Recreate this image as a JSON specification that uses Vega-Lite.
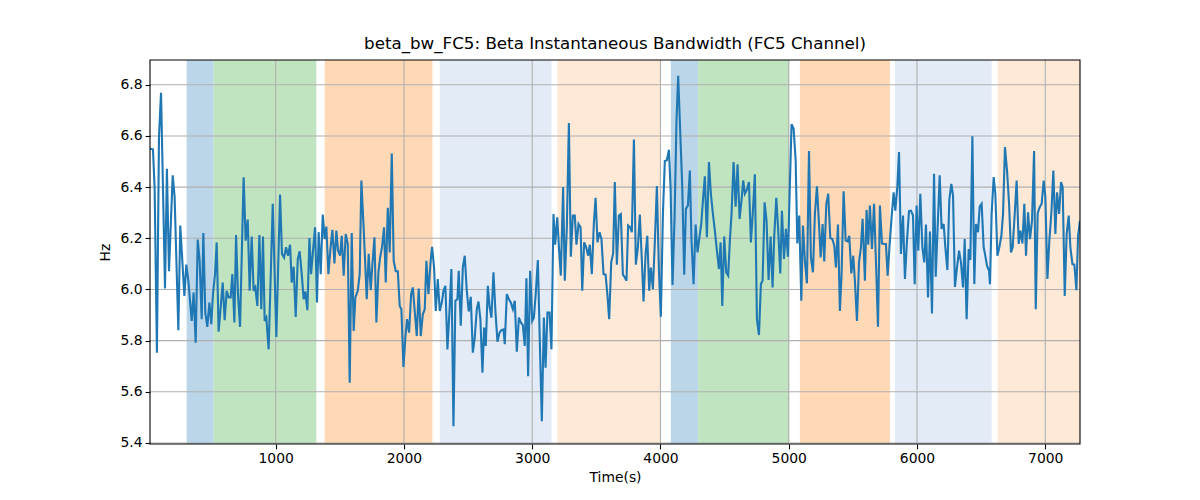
{
  "$schema": "https://vega.github.io/schema/vega-lite/v6.json",
  "width": 930,
  "height": 384,
  "autosize": {"type": "none"},
  "padding": {"left": 150, "top": 60, "right": 120, "bottom": 56},
  "background": "white",
  "config": {
    "view": {"stroke": null},
    "font": "DejaVu Sans",
    "axis": {
      "grid": false,
      "domain": false,
      "labelFont": "DejaVu Sans",
      "labelFontSize": 13.9,
      "labelColor": "black",
      "titleFont": "DejaVu Sans",
      "titleFontSize": 13.9,
      "titleFontWeight": "normal",
      "titleColor": "black",
      "tickColor": "black",
      "tickSize": 4.9,
      "tickWidth": 1.1,
      "labelPadding": 3
    }
  },
  "title": {
    "text": "beta_bw_FC5: Beta Instantaneous Bandwidth (FC5 Channel)",
    "font": "DejaVu Sans",
    "fontSize": 16.7,
    "fontWeight": "normal",
    "color": "black",
    "anchor": "middle",
    "offset": 7
  },
  "datasets": {
    "bands": [
      {"start": 306, "end": 516, "kind": "a"},
      {"start": 516, "end": 1317, "kind": "b"},
      {"start": 1382, "end": 2222, "kind": "c"},
      {"start": 2279, "end": 3150, "kind": "d"},
      {"start": 3197, "end": 4000, "kind": "e"},
      {"start": 4081, "end": 4294, "kind": "a"},
      {"start": 4294, "end": 5004, "kind": "b"},
      {"start": 5087, "end": 5789, "kind": "c"},
      {"start": 5828, "end": 6582, "kind": "d"},
      {"start": 6629, "end": 7271, "kind": "e"}
    ],
    "xgrid": [{"t": 1000}, {"t": 2000}, {"t": 3000}, {"t": 4000}, {"t": 5000}, {"t": 6000}, {"t": 7000}],
    "ygrid": [{"v": 5.4}, {"v": 5.6}, {"v": 5.8}, {"v": 6.0}, {"v": 6.2}, {"v": 6.4}, {"v": 6.6}, {"v": 6.8}],
    "series": [
      {"t": 20, "v": 6.55}, {"t": 43, "v": 6.548}, {"t": 56, "v": 6.4}, {"t": 74, "v": 5.753}, {"t": 90, "v": 6.596},
      {"t": 106, "v": 6.769}, {"t": 121, "v": 6.4}, {"t": 137, "v": 6.004}, {"t": 152, "v": 6.472}, {"t": 168, "v": 6.071},
      {"t": 197, "v": 6.446}, {"t": 212, "v": 6.361}, {"t": 241, "v": 5.841}, {"t": 256, "v": 6.25}, {"t": 272, "v": 6.112},
      {"t": 288, "v": 5.975}, {"t": 303, "v": 6.097}, {"t": 319, "v": 6.034}, {"t": 345, "v": 5.877}, {"t": 360, "v": 5.988},
      {"t": 376, "v": 5.792}, {"t": 392, "v": 6.195}, {"t": 407, "v": 6.112}, {"t": 423, "v": 5.884}, {"t": 436, "v": 6.221},
      {"t": 451, "v": 5.91}, {"t": 467, "v": 5.854}, {"t": 483, "v": 5.949}, {"t": 498, "v": 5.864}, {"t": 511, "v": 5.982},
      {"t": 527, "v": 6.06}, {"t": 540, "v": 6.184}, {"t": 555, "v": 5.835}, {"t": 571, "v": 5.929}, {"t": 587, "v": 6.027},
      {"t": 602, "v": 5.88}, {"t": 618, "v": 5.995}, {"t": 633, "v": 5.969}, {"t": 649, "v": 5.969}, {"t": 662, "v": 6.06},
      {"t": 678, "v": 5.871}, {"t": 691, "v": 6.213}, {"t": 706, "v": 5.982}, {"t": 722, "v": 5.854}, {"t": 750, "v": 6.439},
      {"t": 766, "v": 6.191}, {"t": 782, "v": 6.273}, {"t": 797, "v": 5.995}, {"t": 813, "v": 6.207}, {"t": 828, "v": 5.995},
      {"t": 841, "v": 6.008}, {"t": 857, "v": 5.936}, {"t": 873, "v": 6.213}, {"t": 888, "v": 5.923}, {"t": 901, "v": 6.207},
      {"t": 914, "v": 5.877}, {"t": 927, "v": 5.89}, {"t": 945, "v": 5.766}, {"t": 977, "v": 6.335}, {"t": 1005, "v": 5.814},
      {"t": 1034, "v": 6.371}, {"t": 1049, "v": 6.139}, {"t": 1065, "v": 6.125}, {"t": 1081, "v": 6.165}, {"t": 1096, "v": 6.132},
      {"t": 1112, "v": 6.175}, {"t": 1125, "v": 6.027}, {"t": 1140, "v": 6.089}, {"t": 1156, "v": 5.893}, {"t": 1172, "v": 6.119},
      {"t": 1187, "v": 6.149}, {"t": 1203, "v": 6.06}, {"t": 1218, "v": 5.962}, {"t": 1231, "v": 5.992}, {"t": 1247, "v": 5.919},
      {"t": 1263, "v": 6.201}, {"t": 1276, "v": 6.06}, {"t": 1291, "v": 6.152}, {"t": 1307, "v": 6.243}, {"t": 1322, "v": 5.949},
      {"t": 1335, "v": 6.224}, {"t": 1351, "v": 6.06}, {"t": 1367, "v": 6.293}, {"t": 1382, "v": 6.197}, {"t": 1395, "v": 6.246},
      {"t": 1411, "v": 6.06}, {"t": 1426, "v": 6.154}, {"t": 1442, "v": 6.233}, {"t": 1458, "v": 6.102}, {"t": 1473, "v": 6.23},
      {"t": 1486, "v": 6.152}, {"t": 1502, "v": 6.132}, {"t": 1515, "v": 6.21}, {"t": 1530, "v": 6.054}, {"t": 1546, "v": 6.217},
      {"t": 1562, "v": 6.178}, {"t": 1577, "v": 5.635}, {"t": 1593, "v": 6.221}, {"t": 1608, "v": 5.838}, {"t": 1621, "v": 5.969},
      {"t": 1640, "v": 5.995}, {"t": 1655, "v": 6.06}, {"t": 1668, "v": 6.426}, {"t": 1689, "v": 6.204}, {"t": 1710, "v": 5.962},
      {"t": 1725, "v": 6.139}, {"t": 1741, "v": 5.997}, {"t": 1754, "v": 6.099}, {"t": 1770, "v": 6.204}, {"t": 1785, "v": 5.871},
      {"t": 1801, "v": 6.067}, {"t": 1814, "v": 6.125}, {"t": 1829, "v": 6.165}, {"t": 1845, "v": 6.243}, {"t": 1858, "v": 6.027},
      {"t": 1874, "v": 6.319}, {"t": 1889, "v": 6.145}, {"t": 1905, "v": 6.531}, {"t": 1920, "v": 6.112}, {"t": 1936, "v": 6.071},
      {"t": 1952, "v": 6.071}, {"t": 1967, "v": 5.936}, {"t": 1980, "v": 5.923}, {"t": 1996, "v": 5.697}, {"t": 2011, "v": 5.812},
      {"t": 2024, "v": 5.884}, {"t": 2040, "v": 5.831}, {"t": 2056, "v": 5.982}, {"t": 2069, "v": 6.008}, {"t": 2084, "v": 5.916},
      {"t": 2100, "v": 5.818}, {"t": 2115, "v": 6.004}, {"t": 2131, "v": 5.818}, {"t": 2147, "v": 5.903}, {"t": 2162, "v": 5.923},
      {"t": 2175, "v": 6.112}, {"t": 2191, "v": 5.982}, {"t": 2206, "v": 6.099}, {"t": 2219, "v": 6.167}, {"t": 2235, "v": 6.086},
      {"t": 2248, "v": 5.916}, {"t": 2264, "v": 6.041}, {"t": 2279, "v": 5.916}, {"t": 2295, "v": 5.949}, {"t": 2308, "v": 5.995},
      {"t": 2323, "v": 6.014}, {"t": 2339, "v": 5.766}, {"t": 2355, "v": 5.916}, {"t": 2370, "v": 6.08}, {"t": 2386, "v": 5.465},
      {"t": 2401, "v": 5.956}, {"t": 2417, "v": 5.962}, {"t": 2427, "v": 6.073}, {"t": 2443, "v": 5.858}, {"t": 2459, "v": 6.086},
      {"t": 2474, "v": 6.132}, {"t": 2490, "v": 5.995}, {"t": 2505, "v": 5.914}, {"t": 2521, "v": 5.971}, {"t": 2537, "v": 5.753},
      {"t": 2552, "v": 5.812}, {"t": 2568, "v": 5.923}, {"t": 2581, "v": 5.953}, {"t": 2596, "v": 5.884}, {"t": 2612, "v": 5.675},
      {"t": 2625, "v": 5.851}, {"t": 2638, "v": 5.779}, {"t": 2654, "v": 6.014}, {"t": 2667, "v": 5.936}, {"t": 2682, "v": 5.89},
      {"t": 2698, "v": 6.067}, {"t": 2713, "v": 5.916}, {"t": 2729, "v": 5.796}, {"t": 2745, "v": 5.831}, {"t": 2760, "v": 5.841},
      {"t": 2776, "v": 5.844}, {"t": 2786, "v": 5.786}, {"t": 2802, "v": 5.982}, {"t": 2818, "v": 5.962}, {"t": 2833, "v": 5.949},
      {"t": 2849, "v": 5.923}, {"t": 2864, "v": 5.956}, {"t": 2880, "v": 5.757}, {"t": 2896, "v": 5.89}, {"t": 2911, "v": 5.871},
      {"t": 2927, "v": 5.861}, {"t": 2942, "v": 5.779}, {"t": 2955, "v": 6.044}, {"t": 2968, "v": 5.661}, {"t": 2984, "v": 6.073},
      {"t": 3000, "v": 5.877}, {"t": 3013, "v": 5.89}, {"t": 3028, "v": 5.988}, {"t": 3044, "v": 6.115}, {"t": 3059, "v": 5.801},
      {"t": 3075, "v": 5.485}, {"t": 3091, "v": 5.89}, {"t": 3104, "v": 5.694}, {"t": 3119, "v": 5.91}, {"t": 3135, "v": 5.91},
      {"t": 3150, "v": 5.766}, {"t": 3166, "v": 6.295}, {"t": 3179, "v": 6.175}, {"t": 3195, "v": 6.282}, {"t": 3210, "v": 6.152},
      {"t": 3223, "v": 6.054}, {"t": 3241, "v": 6.4}, {"t": 3254, "v": 6.034}, {"t": 3270, "v": 6.243}, {"t": 3286, "v": 6.651},
      {"t": 3301, "v": 6.128}, {"t": 3317, "v": 6.289}, {"t": 3332, "v": 6.289}, {"t": 3345, "v": 6.175}, {"t": 3361, "v": 6.256},
      {"t": 3377, "v": 6.243}, {"t": 3390, "v": 5.995}, {"t": 3405, "v": 6.184}, {"t": 3421, "v": 6.165}, {"t": 3436, "v": 6.132},
      {"t": 3449, "v": 6.175}, {"t": 3465, "v": 6.06}, {"t": 3481, "v": 6.263}, {"t": 3494, "v": 6.358}, {"t": 3509, "v": 6.184},
      {"t": 3525, "v": 6.224}, {"t": 3540, "v": 6.197}, {"t": 3556, "v": 6.06}, {"t": 3572, "v": 6.058}, {"t": 3587, "v": 5.975},
      {"t": 3600, "v": 5.884}, {"t": 3616, "v": 6.106}, {"t": 3631, "v": 6.141}, {"t": 3644, "v": 6.42}, {"t": 3660, "v": 6.097},
      {"t": 3676, "v": 6.289}, {"t": 3691, "v": 6.295}, {"t": 3707, "v": 6.058}, {"t": 3722, "v": 6.047}, {"t": 3735, "v": 6.034},
      {"t": 3748, "v": 6.25}, {"t": 3764, "v": 6.243}, {"t": 3777, "v": 6.224}, {"t": 3793, "v": 6.586}, {"t": 3808, "v": 6.097},
      {"t": 3824, "v": 6.165}, {"t": 3839, "v": 6.293}, {"t": 3855, "v": 6.112}, {"t": 3868, "v": 5.953}, {"t": 3884, "v": 6.139},
      {"t": 3897, "v": 6.21}, {"t": 3912, "v": 5.995}, {"t": 3925, "v": 6.086}, {"t": 3941, "v": 6.001}, {"t": 3956, "v": 6.184},
      {"t": 3972, "v": 6.404}, {"t": 3988, "v": 6.073}, {"t": 4003, "v": 5.893}, {"t": 4019, "v": 6.295}, {"t": 4034, "v": 6.502},
      {"t": 4050, "v": 6.505}, {"t": 4066, "v": 6.546}, {"t": 4079, "v": 6.393}, {"t": 4094, "v": 6.018}, {"t": 4110, "v": 6.282},
      {"t": 4125, "v": 6.661}, {"t": 4138, "v": 6.835}, {"t": 4154, "v": 6.616}, {"t": 4170, "v": 6.4}, {"t": 4185, "v": 6.058},
      {"t": 4198, "v": 6.315}, {"t": 4214, "v": 6.328}, {"t": 4229, "v": 6.465}, {"t": 4242, "v": 6.191}, {"t": 4258, "v": 6.021},
      {"t": 4274, "v": 6.254}, {"t": 4289, "v": 6.145}, {"t": 4302, "v": 6.197}, {"t": 4318, "v": 6.256}, {"t": 4333, "v": 6.361},
      {"t": 4346, "v": 6.442}, {"t": 4362, "v": 6.204}, {"t": 4378, "v": 6.498}, {"t": 4393, "v": 6.374}, {"t": 4409, "v": 6.295},
      {"t": 4424, "v": 6.23}, {"t": 4440, "v": 6.152}, {"t": 4456, "v": 6.08}, {"t": 4469, "v": 6.184}, {"t": 4482, "v": 5.936},
      {"t": 4497, "v": 6.207}, {"t": 4513, "v": 6.067}, {"t": 4528, "v": 6.054}, {"t": 4541, "v": 6.191}, {"t": 4554, "v": 6.295},
      {"t": 4570, "v": 6.498}, {"t": 4586, "v": 6.324}, {"t": 4601, "v": 6.489}, {"t": 4617, "v": 6.276}, {"t": 4632, "v": 6.348},
      {"t": 4645, "v": 6.426}, {"t": 4658, "v": 6.374}, {"t": 4674, "v": 6.39}, {"t": 4690, "v": 6.42}, {"t": 4705, "v": 6.184},
      {"t": 4721, "v": 6.308}, {"t": 4736, "v": 6.45}, {"t": 4752, "v": 5.884}, {"t": 4768, "v": 5.822}, {"t": 4783, "v": 6.021},
      {"t": 4796, "v": 6.034}, {"t": 4812, "v": 6.341}, {"t": 4827, "v": 6.269}, {"t": 4843, "v": 6.037}, {"t": 4859, "v": 6.207},
      {"t": 4874, "v": 6.008}, {"t": 4887, "v": 6.207}, {"t": 4903, "v": 6.358}, {"t": 4918, "v": 6.23}, {"t": 4934, "v": 6.063},
      {"t": 4947, "v": 6.308}, {"t": 4963, "v": 6.119}, {"t": 4978, "v": 6.237}, {"t": 4994, "v": 6.128}, {"t": 5007, "v": 6.374},
      {"t": 5022, "v": 6.646}, {"t": 5038, "v": 6.629}, {"t": 5054, "v": 6.505}, {"t": 5067, "v": 6.18}, {"t": 5082, "v": 6.289},
      {"t": 5098, "v": 5.956}, {"t": 5111, "v": 6.25}, {"t": 5126, "v": 6.112}, {"t": 5142, "v": 6.024}, {"t": 5158, "v": 6.541},
      {"t": 5173, "v": 6.125}, {"t": 5189, "v": 6.067}, {"t": 5204, "v": 6.295}, {"t": 5220, "v": 6.403}, {"t": 5236, "v": 6.256},
      {"t": 5249, "v": 6.125}, {"t": 5264, "v": 6.256}, {"t": 5277, "v": 6.11}, {"t": 5293, "v": 6.335}, {"t": 5308, "v": 6.374},
      {"t": 5324, "v": 6.201}, {"t": 5340, "v": 6.197}, {"t": 5355, "v": 6.171}, {"t": 5368, "v": 6.086}, {"t": 5384, "v": 6.254},
      {"t": 5399, "v": 5.916}, {"t": 5412, "v": 6.06}, {"t": 5428, "v": 6.384}, {"t": 5444, "v": 6.191}, {"t": 5459, "v": 6.188},
      {"t": 5472, "v": 6.21}, {"t": 5488, "v": 6.063}, {"t": 5503, "v": 6.132}, {"t": 5516, "v": 6.034}, {"t": 5532, "v": 5.877},
      {"t": 5548, "v": 6.106}, {"t": 5563, "v": 6.165}, {"t": 5576, "v": 6.276}, {"t": 5594, "v": 6.034}, {"t": 5607, "v": 6.311},
      {"t": 5620, "v": 6.175}, {"t": 5633, "v": 6.328}, {"t": 5649, "v": 6.158}, {"t": 5665, "v": 6.335}, {"t": 5680, "v": 6.112},
      {"t": 5696, "v": 5.854}, {"t": 5711, "v": 6.328}, {"t": 5727, "v": 6.18}, {"t": 5743, "v": 6.178}, {"t": 5758, "v": 6.178},
      {"t": 5771, "v": 6.054}, {"t": 5787, "v": 6.178}, {"t": 5802, "v": 6.282}, {"t": 5818, "v": 6.38}, {"t": 5831, "v": 6.308},
      {"t": 5847, "v": 6.403}, {"t": 5860, "v": 6.537}, {"t": 5875, "v": 6.139}, {"t": 5891, "v": 6.289}, {"t": 5906, "v": 6.041},
      {"t": 5922, "v": 6.191}, {"t": 5938, "v": 6.306}, {"t": 5953, "v": 6.308}, {"t": 5969, "v": 6.289}, {"t": 5982, "v": 6.021},
      {"t": 5997, "v": 6.328}, {"t": 6010, "v": 6.152}, {"t": 6026, "v": 6.374}, {"t": 6042, "v": 6.165}, {"t": 6057, "v": 6.106},
      {"t": 6070, "v": 6.254}, {"t": 6086, "v": 5.969}, {"t": 6101, "v": 6.227}, {"t": 6117, "v": 5.906}, {"t": 6133, "v": 6.452},
      {"t": 6146, "v": 6.05}, {"t": 6161, "v": 6.243}, {"t": 6177, "v": 6.446}, {"t": 6192, "v": 6.237}, {"t": 6208, "v": 6.256},
      {"t": 6221, "v": 6.165}, {"t": 6237, "v": 6.076}, {"t": 6252, "v": 6.35}, {"t": 6268, "v": 6.413}, {"t": 6281, "v": 6.367},
      {"t": 6296, "v": 6.01}, {"t": 6312, "v": 6.086}, {"t": 6328, "v": 6.152}, {"t": 6343, "v": 6.106}, {"t": 6359, "v": 6.008},
      {"t": 6372, "v": 6.197}, {"t": 6387, "v": 5.884}, {"t": 6403, "v": 6.158}, {"t": 6416, "v": 6.115}, {"t": 6432, "v": 6.599},
      {"t": 6447, "v": 6.021}, {"t": 6460, "v": 6.256}, {"t": 6476, "v": 6.224}, {"t": 6489, "v": 6.324}, {"t": 6504, "v": 6.335},
      {"t": 6520, "v": 6.165}, {"t": 6530, "v": 6.139}, {"t": 6546, "v": 6.093}, {"t": 6562, "v": 6.073}, {"t": 6569, "v": 6.021},
      {"t": 6582, "v": 6.295}, {"t": 6598, "v": 6.439}, {"t": 6611, "v": 6.374}, {"t": 6627, "v": 6.132}, {"t": 6642, "v": 6.165},
      {"t": 6658, "v": 6.21}, {"t": 6671, "v": 6.295}, {"t": 6686, "v": 6.557}, {"t": 6702, "v": 6.465}, {"t": 6718, "v": 6.335},
      {"t": 6733, "v": 6.145}, {"t": 6746, "v": 6.165}, {"t": 6762, "v": 6.295}, {"t": 6777, "v": 6.426}, {"t": 6793, "v": 6.178},
      {"t": 6806, "v": 6.23}, {"t": 6822, "v": 6.18}, {"t": 6837, "v": 6.335}, {"t": 6850, "v": 6.132}, {"t": 6866, "v": 6.302},
      {"t": 6881, "v": 6.197}, {"t": 6897, "v": 6.269}, {"t": 6913, "v": 6.541}, {"t": 6926, "v": 5.923}, {"t": 6941, "v": 6.298},
      {"t": 6957, "v": 6.322}, {"t": 6972, "v": 6.335}, {"t": 6988, "v": 6.426}, {"t": 7001, "v": 6.361}, {"t": 7017, "v": 6.041},
      {"t": 7032, "v": 6.191}, {"t": 7048, "v": 6.302}, {"t": 7063, "v": 6.465}, {"t": 7079, "v": 6.217}, {"t": 7092, "v": 6.38},
      {"t": 7108, "v": 6.295}, {"t": 7123, "v": 6.42}, {"t": 7136, "v": 6.4}, {"t": 7152, "v": 5.975}, {"t": 7167, "v": 6.217},
      {"t": 7183, "v": 6.289}, {"t": 7196, "v": 6.165}, {"t": 7212, "v": 6.099}, {"t": 7227, "v": 6.097}, {"t": 7243, "v": 5.997},
      {"t": 7256, "v": 6.21}, {"t": 7271, "v": 6.269}
    ]
  },
  "layer": [
    {
      "data": {"name": "bands"},
      "mark": {"type": "rect", "strokeWidth": 0},
      "encoding": {
        "x": {"field": "start", "type": "quantitative", "scale": {"domain": [20, 7271], "nice": false, "zero": false},
              "axis": {"values": [1000, 2000, 3000, 4000, 5000, 6000, 7000], "format": "d", "title": "Time(s)", "titlePadding": 5}},
        "x2": {"field": "end"},
        "y": {"datum": 5.396, "type": "quantitative"},
        "y2": {"datum": 6.897},
        "fill": {"field": "kind", "type": "nominal", "legend": null,
                 "scale": {"domain": ["a", "b", "c", "d", "e"], "range": ["#bbd6e8", "#c0e3c0", "#ffd8b6", "#e3ebf6", "#fee9d6"]}}
      }
    },
    {
      "data": {"name": "xgrid"},
      "mark": {"type": "rule", "color": "#b0b0b0", "strokeWidth": 1.1},
      "encoding": {"x": {"field": "t", "type": "quantitative"}}
    },
    {
      "data": {"name": "ygrid"},
      "mark": {"type": "rule", "color": "#b0b0b0", "strokeWidth": 1.1},
      "encoding": {"y": {"field": "v", "type": "quantitative"}}
    },
    {
      "data": {"name": "series"},
      "mark": {"type": "line", "color": "#1f77b4", "strokeWidth": 2.1, "clip": true},
      "encoding": {
        "x": {"field": "t", "type": "quantitative"},
        "y": {"field": "v", "type": "quantitative", "scale": {"domain": [5.396, 6.897], "nice": false, "zero": false},
              "axis": {"values": [5.4, 5.6, 5.8, 6.0, 6.2, 6.4, 6.6, 6.8], "format": ".1f", "title": "Hz", "titlePadding": 8}}
      }
    },
    {
      "data": {"values": [{"x1": 20, "x2": 7271, "y1": 5.396, "y2": 6.897}]},
      "mark": {"type": "rect", "fill": null, "fillOpacity": 0, "stroke": "black", "strokeWidth": 1.1},
      "encoding": {
        "x": {"field": "x1", "type": "quantitative"},
        "x2": {"field": "x2"},
        "y": {"field": "y1", "type": "quantitative"},
        "y2": {"field": "y2"}
      }
    }
  ]
}
